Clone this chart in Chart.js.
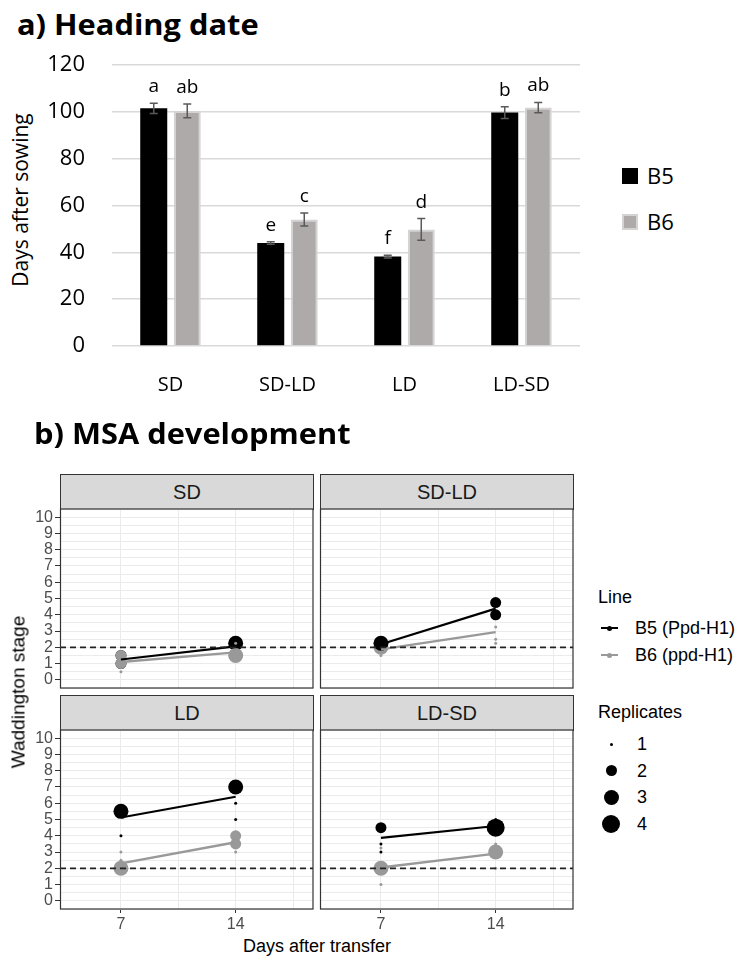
<!DOCTYPE html>
<html>
<head>
<meta charset="utf-8">
<script src="https://cdn.jsdelivr.net/npm/chart.js@4.4.1/dist/chart.umd.min.js"></script>
<style>
  body { margin: 0; background: #fff; width: 744px; height: 964px; position: relative; overflow: hidden; font-family: 'Open Sans', sans-serif; }
  .abs { position: absolute; white-space: nowrap; line-height: 1; }
  .title { font-weight: 700; font-size: 28px; color: #000; transform: scaleX(1.1); transform-origin: left center; }
  .gg { font-family: 'Liberation Sans', Arial, sans-serif; }
  .strip { position: absolute; box-sizing: border-box; border: 1px solid #333; background: #d9d9d9;
           display: flex; align-items: center; justify-content: center; font-size: 20px; color: #1a1a1a; }
  canvas { position: absolute; }
</style>
</head>
<body>

<div class="abs title" style="left:17px;top:10px">a) Heading date</div>
<div class="abs" style="left:20px;top:200px;font-size:21px;transform:translate(-50%,-50%) rotate(-90deg)">Days after sowing</div>
<canvas id="bars" width="600" height="380" style="left:0;top:40px"></canvas>
<div id="legendA"></div>

<div class="abs title" style="left:34px;top:419px">b) MSA development</div>
<div id="facets"></div>
<div class="abs gg" style="left:18px;top:692px;font-size:19px;transform:translate(-50%,-50%) rotate(-90deg)">Waddington stage</div>
<div class="abs gg" style="left:317px;top:946px;font-size:18px;transform:translate(-50%,-50%)">Days after transfer</div>
<div id="legendB"></div>

<script>
// ---------- a) Heading date ----------
const conditions = ['SD', 'SD-LD', 'LD', 'LD-SD'];
const b5Days = [101.5, 44, 38.2, 99.7];
const b6Days = [100.4, 54, 49.8, 101.8];
const b5Err = [2.2, 0.5, 0.6, 2.5];
const b6Err = [2.9, 2.8, 4.6, 2.2];
const b5Letters = ['a', 'e', 'f', 'b'];
const b6Letters = ['ab', 'c', 'd', 'ab'];

// ---------- b) MSA development ----------
// replicate points: [days after transfer, Waddington stage, number of replicates]
const b5SD = [[7, 1.5, 2], [7, 1, 2], [14, 2.25, 3], [14, 1.5, 1]];
const b6SD = [[7, 1.5, 2], [7, 1, 2], [7, 0.5, 1], [14, 1.5, 3], [14, 2.25, 1]];
const b5SDLD = [[7, 2.25, 3], [7, 2, 1], [14, 4.75, 2], [14, 4, 2]];
const b6SDLD = [[7, 2, 3], [7, 1.5, 1], [14, 3.75, 1], [14, 3.25, 1], [14, 2.5, 1], [14, 2.25, 1]];
const b5LD = [[7, 5.5, 3], [7, 4, 1], [14, 7, 3], [14, 6, 1], [14, 5, 1]];
const b6LD = [[7, 2, 3], [7, 2.5, 1], [7, 3, 1], [14, 4, 2], [14, 3.5, 2], [14, 3, 1]];
const b5LDSD = [[7, 4.5, 2], [7, 3.5, 1], [7, 3, 1], [14, 4.5, 4], [14, 5, 1]];
const b6LDSD = [[7, 2, 3], [7, 3.25, 1], [7, 1, 1], [14, 3, 3], [14, 3.5, 1], [14, 2, 1]];

const days = [7, 14];
const xGrid = [7, 10.5, 14, 17.5];
const refStage = 2;
const lineNames = ['B5 (Ppd-H1)', 'B6 (ppd-H1)'];
const replicates = [1, 2, 3, 4];

const b5Points = [b5SD, b5SDLD, b5LD, b5LDSD];
const b6Points = [b6SD, b6SDLD, b6LD, b6LDSD];

/*=============================================
ERROR BARS + LETTERS
=============================================*/
const errorBars = {
  id: 'errorBars',
  afterDatasetsDraw(chart) {
    const ctx = chart.ctx, y = chart.scales.y;
    chart.data.datasets.forEach((ds, i) => {
      chart.getDatasetMeta(i).data.forEach((bar, j) => {
        const top = y.getPixelForValue(ds.data[j] + ds.err[j]);
        const bot = y.getPixelForValue(ds.data[j] - ds.err[j]);
        ctx.save();
        ctx.strokeStyle = '#595959';
        ctx.lineWidth = 1.5;
        ctx.beginPath();
        ctx.moveTo(bar.x, top); ctx.lineTo(bar.x, bot);
        ctx.moveTo(bar.x - 4, top); ctx.lineTo(bar.x + 4, top);
        ctx.moveTo(bar.x - 4, bot); ctx.lineTo(bar.x + 4, bot);
        ctx.stroke();
        ctx.fillStyle = '#000';
        ctx.font = "19px 'Open Sans'";
        ctx.textAlign = 'center';
        ctx.textBaseline = 'alphabetic';
        ctx.fillText(ds.letters[j], bar.x, top - 11);
        ctx.restore();
      });
    });
  }
};

new Chart(document.getElementById('bars'), {
  type: 'bar',
  data: {
    labels: conditions,
    datasets: [
      { label: 'B5', data: b5Days, err: b5Err, letters: b5Letters, backgroundColor: '#000', borderWidth: 0,
        categoryPercentage: 0.573, barPercentage: 0.806 },
      { label: 'B6', data: b6Days, err: b6Err, letters: b6Letters, backgroundColor: '#aeaaaa', borderColor: '#d6d3d3',
        borderWidth: 2, categoryPercentage: 0.573, barPercentage: 0.806 }
    ]
  },
  options: {
    responsive: false, animation: false, events: [],
    layout: { padding: { top: 25, right: 20, left: 0, bottom: 0 }, autoPadding: false },
    plugins: { legend: { display: false }, tooltip: { enabled: false } },
    scales: {
      x: {
        grid: { display: false }, border: { display: false },
        ticks: { color: '#000', font: { family: "'Open Sans'", size: 20 }, padding: 19 },
        afterFit: s => { s.height = 74; s.paddingLeft = 0; s.paddingRight = 0; }
      },
      y: {
        min: 0, max: 120,
        ticks: { stepSize: 20, color: '#000', font: { family: "'Open Sans'", size: 22 }, padding: 27 },
        grid: { color: '#d9d9d9', lineWidth: 1.5, drawTicks: false }, border: { display: false },
        afterFit: s => { s.width = 112; s.paddingTop = 0; s.paddingBottom = 0; }
      }
    }
  },
  plugins: [errorBars]
});

// legend a)
const legendA = document.getElementById('legendA');
[['B5', '#000', 'none'], ['B6', '#aeaaaa', '2px solid #d6d3d3']].forEach((it, i) => {
  const y = 176 + i * 46;
  legendA.innerHTML +=
    `<div class="abs" style="left:622px;top:${y - 8}px;width:16px;height:16px;box-sizing:border-box;background:${it[1]};border:${it[2]}"></div>` +
    `<div class="abs" style="left:647px;top:${y - 12}px;font-size:22px">${it[0]}</div>`;
});

/*=============================================
FACETS
=============================================*/
const repRadius = { 1: 1.5, 2: 5.5, 3: 7.5, 4: 9 };
const isInt = v => v >= 0 && Number.isInteger(v);

const meanLine = pts => days.map(d => {
  const sel = pts.filter(p => p[0] === d);
  const n = sel.reduce((s, p) => s + p[2], 0);
  return { x: d, y: sel.reduce((s, p) => s + p[1] * p[2], 0) / n };
});

const toPoints = pts => pts.map(p => ({ x: p[0], y: p[1], n: p[2] }));

const panelDecor = {
  id: 'panelDecor',
  afterDatasetsDraw(chart) {
    const { ctx, chartArea: a } = chart;
    const yy = chart.scales.y.getPixelForValue(refStage);
    ctx.save();
    ctx.setLineDash([6, 4]);
    ctx.lineWidth = 1.7;
    ctx.strokeStyle = '#222';
    ctx.beginPath(); ctx.moveTo(a.left, yy); ctx.lineTo(a.right, yy); ctx.stroke();
    ctx.setLineDash([]);
    ctx.strokeStyle = '#333';
    ctx.lineWidth = 1.2;
    ctx.strokeRect(a.left + 0.5, a.top, a.right - a.left - 0.5, a.bottom - a.top);
    ctx.restore();
  }
};

const panels = [
  { l: 60, t: 509, r: 313, b: 688, showY: true, showX: false, grayOnTop: true },
  { l: 320, t: 509, r: 573, b: 688, showY: false, showX: false, grayOnTop: false },
  { l: 60, t: 730, r: 313, b: 909, showY: true, showX: true, grayOnTop: false },
  { l: 320, t: 730, r: 573, b: 909, showY: false, showX: true, grayOnTop: false }
];

const facetsDiv = document.getElementById('facets');

panels.forEach((p, k) => {
  const YW = p.showY ? 36 : 0, XH = p.showX ? 26 : 0;
  const w = p.r - p.l + YW + 2, h = p.b - p.t + XH + 2;

  const strip = document.createElement('div');
  strip.className = 'strip gg';
  strip.style.cssText = `left:${p.l}px;top:${p.t - 35}px;width:${p.r - p.l + 1}px;height:36px`;
  strip.textContent = conditions[k];
  facetsDiv.appendChild(strip);

  const cv = document.createElement('canvas');
  cv.width = w; cv.height = h;
  cv.style.left = (p.l - YW - 1) + 'px';
  cv.style.top = (p.t - 1) + 'px';
  facetsDiv.appendChild(cv);

  new Chart(cv, {
    type: 'scatter',
    data: {
      datasets: [
        { label: lineNames[0], data: meanLine(b5Points[k]), showLine: true, pointRadius: 0,
          borderColor: '#000', borderWidth: 2.2, order: 0 },
        { label: lineNames[1], data: meanLine(b6Points[k]), showLine: true, pointRadius: 0,
          borderColor: '#999', borderWidth: 2.4, order: 1 },
        { label: 'B5 reps', data: toPoints(b5Points[k]), backgroundColor: '#000', borderWidth: 0,
          pointRadius: c => repRadius[c.raw.n], order: p.grayOnTop ? 3 : 2 },
        { label: 'B6 reps', data: toPoints(b6Points[k]), backgroundColor: '#999', borderWidth: 0,
          pointRadius: c => repRadius[c.raw.n], order: p.grayOnTop ? 2 : 3 }
      ]
    },
    options: {
      responsive: false, animation: false, events: [],
      layout: { padding: 1, autoPadding: false },
      plugins: { legend: { display: false }, tooltip: { enabled: false } },
      scales: {
        x: {
          type: 'linear', min: 3.28, max: 18.72,
          afterBuildTicks: s => { s.ticks = xGrid.map(v => ({ value: v })); },
          afterFit: s => { s.height = XH; s.paddingLeft = 0; s.paddingRight = 0; },
          ticks: { display: p.showX, autoSkip: false, maxRotation: 0, padding: 2, color: '#4d4d4d',
                   font: { family: "'Liberation Sans'", size: 16 },
                   callback: v => days.includes(v) ? v : '' },
          grid: { color: '#ebebeb', lineWidth: 1, drawTicks: p.showX, tickLength: 4,
                  tickColor: c => days.includes(c.tick.value) ? '#333' : 'rgba(0,0,0,0)' },
          border: { display: false }
        },
        y: {
          min: -0.5, max: 10.5,
          afterFit: s => { s.width = YW; s.paddingTop = 0; s.paddingBottom = 0; },
          ticks: { display: p.showY, stepSize: 0.5, autoSkip: false, padding: 2, color: '#4d4d4d',
                   font: { family: "'Liberation Sans'", size: 16 },
                   callback: v => isInt(v) ? v : '' },
          grid: { color: '#ebebeb', lineWidth: 1, drawTicks: p.showY, tickLength: 5,
                  tickColor: c => isInt(c.tick.value) ? '#333' : 'rgba(0,0,0,0)' },
          border: { display: false }
        }
      }
    },
    plugins: [panelDecor]
  });
});

// legend b)
const legendB = document.getElementById('legendB');
let html = `<div class="abs gg" style="left:598px;top:588px;font-size:18px">Line</div>`;
['#000', '#999'].forEach((col, i) => {
  const y = 628 + i * 27;
  html += `<div class="abs" style="left:601px;top:${y - 1}px;width:17px;height:2px;background:${col}"></div>` +
          `<div class="abs" style="left:607px;top:${y - 2.5}px;width:5px;height:5px;border-radius:50%;background:${col}"></div>` +
          `<div class="abs gg" style="left:635px;top:${y - 9}px;font-size:18px">${lineNames[i]}</div>`;
});
html += `<div class="abs gg" style="left:598px;top:703px;font-size:18px">Replicates</div>`;
replicates.forEach((n, i) => {
  const y = 744 + i * 26.5, r = repRadius[n];
  html += `<div class="abs" style="left:${611 - r}px;top:${y - r}px;width:${2 * r}px;height:${2 * r}px;border-radius:50%;background:#000"></div>` +
          `<div class="abs gg" style="left:637px;top:${y - 9}px;font-size:18px">${n}</div>`;
});
legendB.innerHTML = html;
</script>
</body>
</html>
